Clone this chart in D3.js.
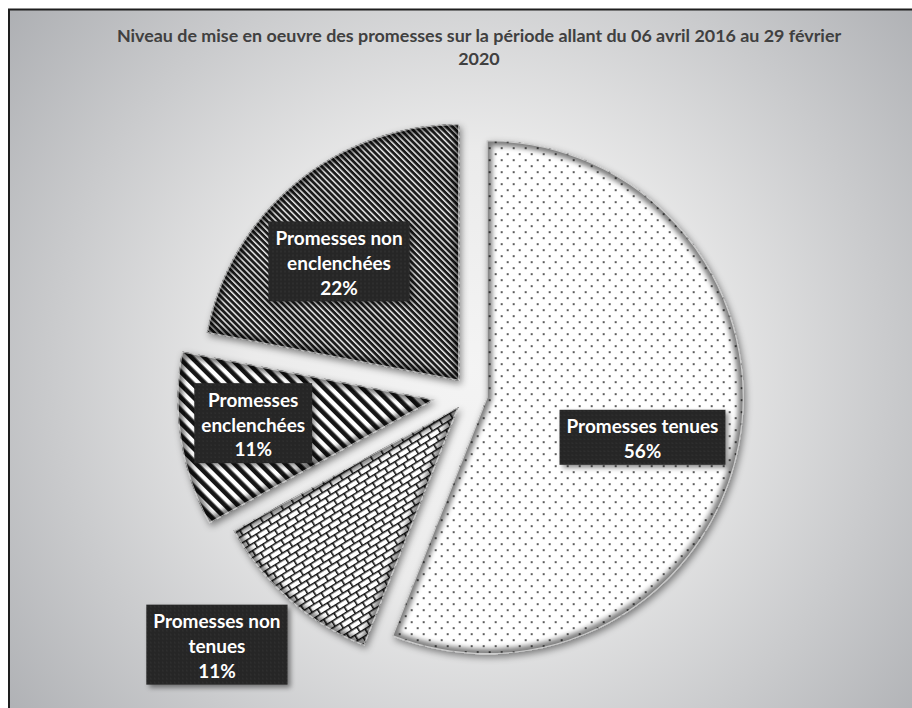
<!DOCTYPE html>
<html>
<head>
<meta charset="utf-8">
<script src="https://cdn.jsdelivr.net/npm/d3@7"></script>
<style>
  html, body { margin: 0; padding: 0; background: #ffffff; }
  svg { display: block; }
</style>
</head>
<body>
<svg id="chart" width="912" height="708"></svg>
<script>
// ---- data ----
const categories = ["Promesses tenues", "Promesses non tenues", "Promesses enclenchées", "Promesses non enclenchées"];
const shares = [56, 11, 11, 22];
const labelLines = [
  ["Promesses tenues"],
  ["Promesses non", "tenues"],
  ["Promesses", "enclenchées"],
  ["Promesses non", "enclenchées"]
];
const titleLines = [
  "Niveau de mise en oeuvre des promesses sur la période allant du 06 avril 2016 au 29 février",
  "2020"
];

// ---- layout ----
const W = 912, H = 708;
const cx = 470, cy = 394, R = 257;
const explode = [17, 17, 36, 17];            // slice pull-out distance
const patternIds = ["dots", "brick", "wideStripes", "darkStripes"];
const labelRadius = [0.625, 1.317, 0.71, 0.654]; // along the slice bisector, in radii
const labelNudge = [[-2, 10], [-18, -16], [-1, -5], [-13, 10]];
const fontFamily = "Lato, 'Open Sans', 'DejaVu Sans', sans-serif";

const svg = d3.select("#chart");
const defs = svg.append("defs");

// background radial gradient of the chart area
const bg = defs.append("radialGradient").attr("id", "bgGrad")
  .attr("gradientUnits", "userSpaceOnUse")
  .attr("cx", 470).attr("cy", 370).attr("r", 620);
bg.append("stop").attr("offset", 0).attr("stop-color", "#f4f4f4");
bg.append("stop").attr("offset", 0.35).attr("stop-color", "#ebebeb");
bg.append("stop").attr("offset", 1).attr("stop-color", "#a8aaae");

// fill patterns
const pDots = defs.append("pattern").attr("id", "dots").attr("patternUnits", "userSpaceOnUse")
  .attr("width", 12).attr("height", 12);
pDots.append("rect").attr("width", 12).attr("height", 12).attr("fill", "#ffffff");
pDots.append("circle").attr("cx", 3).attr("cy", 3).attr("r", 1).attr("fill", "#262626");
pDots.append("circle").attr("cx", 9).attr("cy", 9).attr("r", 1).attr("fill", "#262626");

const pBrick = defs.append("pattern").attr("id", "brick").attr("patternUnits", "userSpaceOnUse")
  .attr("width", 12).attr("height", 12).attr("patternTransform", "rotate(-32)");
pBrick.append("rect").attr("width", 12).attr("height", 12).attr("fill", "#ffffff");
pBrick.append("path")
  .attr("d", "M0,0.8H12 M0,6.8H12 M0.8,0.8V6.8 M6.8,6.8V12.8")
  .attr("stroke", "#111").attr("stroke-width", 1.6).attr("fill", "none");

const pWide = defs.append("pattern").attr("id", "wideStripes").attr("patternUnits", "userSpaceOnUse")
  .attr("width", 9).attr("height", 9).attr("patternTransform", "rotate(-45)");
pWide.append("rect").attr("width", 9).attr("height", 9).attr("fill", "#ffffff");
pWide.append("rect").attr("x", 0).attr("width", 4.6).attr("height", 9).attr("fill", "#141414");

const pDark = defs.append("pattern").attr("id", "darkStripes").attr("patternUnits", "userSpaceOnUse")
  .attr("width", 4.3).attr("height", 4.3).attr("patternTransform", "rotate(-45)");
pDark.append("rect").attr("width", 4.3).attr("height", 4.3).attr("fill", "#1c1c1c");
pDark.append("rect").attr("x", 0).attr("width", 1.5).attr("height", 4.3).attr("fill", "#e8e8e8");

const pBox = defs.append("pattern").attr("id", "boxTex").attr("patternUnits", "userSpaceOnUse")
  .attr("width", 4).attr("height", 4);
pBox.append("rect").attr("width", 4).attr("height", 4).attr("fill", "#262626");
pBox.append("circle").attr("cx", 2).attr("cy", 2).attr("r", 0.7).attr("fill", "#383838");

// shadows and bevel blur
const fShadow = defs.append("filter").attr("id", "sliceShadow")
  .attr("x", "-20%").attr("y", "-20%").attr("width", "140%").attr("height", "140%");
fShadow.append("feDropShadow").attr("dx", 2).attr("dy", 3).attr("stdDeviation", 3.5)
  .attr("flood-color", "#000").attr("flood-opacity", 0.45);

const fBox = defs.append("filter").attr("id", "boxShadow")
  .attr("x", "-20%").attr("y", "-30%").attr("width", "140%").attr("height", "160%");
fBox.append("feDropShadow").attr("dx", 3).attr("dy", 3).attr("stdDeviation", 2.5)
  .attr("flood-color", "#000").attr("flood-opacity", 0.45);

const fBlur = defs.append("filter").attr("id", "rimBlur");
fBlur.append("feGaussianBlur").attr("stdDeviation", 2.4);

// chart area
svg.append("rect").attr("x", 9).attr("y", 9.5).attr("width", W + 40).attr("height", H + 40)
  .attr("fill", "url(#bgGrad)").attr("stroke", "#1e1e1e").attr("stroke-width", 2);

// title
const title = svg.append("g").attr("fill", "#404040")
  .style("font-family", fontFamily).style("font-weight", 700);
const t1 = title.append("text").attr("x", 479).attr("y", 42).attr("text-anchor", "middle")
  .style("font-size", "16px").text(titleLines[0]);
const titleSize = 16 * 725 / t1.node().getComputedTextLength();
t1.style("font-size", titleSize + "px");
title.append("text").attr("x", 479).attr("y", 65).attr("text-anchor", "middle")
  .style("font-size", titleSize + "px").text(titleLines[1]);

// pie
const pie = d3.pie().sort(null).value(d => d).startAngle(0).endAngle(2 * Math.PI);
const arcs = pie(shares);
const arcGen = d3.arc().innerRadius(0).outerRadius(R);

const slices = svg.append("g").attr("class", "slices");
arcs.forEach((d, i) => {
  const mid = (d.startAngle + d.endAngle) / 2;
  const ox = Math.sin(mid) * explode[i], oy = -Math.cos(mid) * explode[i];
  const g = slices.append("g")
    .attr("transform", `translate(${cx + ox},${cy + oy})`)
    .attr("filter", "url(#sliceShadow)");
  const path = arcGen(d);
  defs.append("clipPath").attr("id", "clip" + i).append("path").attr("d", path);
  g.append("path").attr("d", path).attr("fill", `url(#${patternIds[i]})`);
  // soft bevel rim inside the slice edge
  const rim = g.append("g").attr("clip-path", `url(#clip${i})`);
  rim.append("path").attr("d", path).attr("fill", "none")
    .attr("stroke", "#000").attr("stroke-opacity", 0.5).attr("stroke-width", 11)
    .attr("filter", "url(#rimBlur)");
  rim.append("path").attr("d", path).attr("fill", "none")
    .attr("stroke", "#ffffff").attr("stroke-opacity", 0.6).attr("stroke-width", 2.2);
});

// data labels
const labels = svg.append("g").attr("class", "labels")
  .style("font-family", fontFamily).style("font-weight", 700);
const probe = labels.append("text").style("font-size", "20px").text("Promesses tenues");
const labelSize = 20 * 152 / probe.node().getComputedTextLength();
probe.remove();
const lineH = 25;

arcs.forEach((d, i) => {
  const mid = (d.startAngle + d.endAngle) / 2;
  const ox = Math.sin(mid) * explode[i], oy = -Math.cos(mid) * explode[i];
  const lr = labelRadius[i] * R;
  const [px, py] = d3.arc().innerRadius(lr).outerRadius(lr).centroid(d);
  const x = cx + ox + px + labelNudge[i][0];
  const y = cy + oy + py + labelNudge[i][1];
  const lines = labelLines[i].concat([d.data + "%"]);
  const g = labels.append("g").attr("transform", `translate(${x},${y})`);
  const box = g.append("rect").attr("fill", "url(#boxTex)").attr("filter", "url(#boxShadow)");
  let maxW = 0;
  const h = lines.length * lineH + 5;
  lines.forEach((s, k) => {
    const t = g.append("text").attr("x", 0)
      .attr("y", -h / 2 + 16.5 + k * lineH + labelSize * 0.36)
      .attr("text-anchor", "middle").attr("fill", "#ffffff")
      .style("font-size", labelSize + "px").text(s);
    maxW = Math.max(maxW, t.node().getComputedTextLength());
  });
  const w = maxW + 14;
  box.attr("x", -w / 2).attr("y", -h / 2).attr("width", w).attr("height", h);
});
</script>
</body>
</html>
